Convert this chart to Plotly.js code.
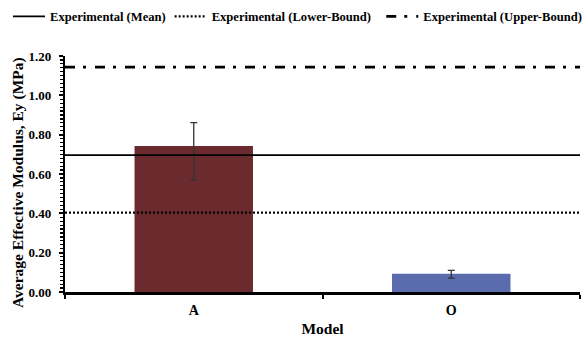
<!DOCTYPE html>
<html>
<head>
<meta charset="utf-8">
<script src="https://cdn.plot.ly/plotly-3.0.1.min.js"></script>
<style>
  html, body { margin: 0; padding: 0; background: #fff; }
  #chart { width: 587px; height: 337px; }
</style>
</head>
<body>
<div id="chart"></div>
<script>
// Model categories and their average effective modulus Ey (MPa)
const models = ['A', 'O'];
const meanModulus = [0.743, 0.093];
const errorPlus = [0.118, 0.017];
const errorMinus = [0.173, 0.022];
const barColors = ['#6B2B2E', '#5A6CAE'];

// Experimental reference levels (MPa)
const expMean = 0.696;
const expLower = 0.404;
const expUpper = 1.143;
const lineSpan = [0, 1];

const yTitle = 'Average Effective Modulus, Ey (MPa)';
const FONT = "'Liberation Serif', 'Times New Roman', serif";

const bars = {
  type: 'bar',
  x: models,
  y: meanModulus,
  marker: { color: barColors },
  error_y: {
    type: 'data', symmetric: false,
    array: errorPlus, arrayminus: errorMinus,
    color: '#333', thickness: 1.3, width: 3.5
  },
  showlegend: false,
  hoverinfo: 'x+y'
};

function refLine(name, value, lineStyle, legendId) {
  return {
    type: 'scatter', mode: 'lines', name: name,
    x: lineSpan, y: [value, value],
    xaxis: 'x2', yaxis: 'y',
    legend: legendId,
    line: lineStyle
  };
}

const traces = [
  bars,
  refLine('Experimental (Mean)', expMean, { color: '#000', width: 1.6, dash: 'solid' }, 'legend'),
  refLine('Experimental (Lower-Bound)', expLower, { color: '#000', width: 2.2, dash: '2px,2px' }, 'legend2'),
  refLine('Experimental (Upper-Bound)', expUpper, { color: '#000', width: 2.8, dash: '10px,8px,3px,9px' }, 'legend3')
];

// one legend box per entry so the three keys sit in a single row
function legendBox(xPos) {
  return {
    orientation: 'h',
    xref: 'container', yref: 'container',
    x: xPos, xanchor: 'left', y: 0.995, yanchor: 'top',
    font: { family: FONT, size: 12.6, color: '#000', weight: 'bold' },
    itemwidth: 32, bgcolor: 'rgba(0,0,0,0)'
  };
}

const layout = {
  width: 587, height: 337,
  margin: { l: 65, r: 7, t: 56, b: 45 },
  paper_bgcolor: '#fff', plot_bgcolor: '#fff',
  font: { family: FONT, size: 13, color: '#000', weight: 'bold' },
  bargap: 0.54,
  showlegend: true,
  legend: legendBox(0.0136),
  legend2: legendBox(0.289),
  legend3: legendBox(0.6495),
  xaxis: {
    type: 'category',
    showline: true, linecolor: '#000', linewidth: 2.5,
    ticks: 'outside', tickson: 'boundaries', ticklen: 4, tickwidth: 2, tickcolor: '#000',
    ticklabelstandoff: 4,
    showgrid: false, zeroline: false,
    tickfont: { family: FONT, size: 14, color: '#000', weight: 'bold' },
    title: { text: 'Model', font: { family: FONT, size: 15.5, color: '#000', weight: 'bold' }, standoff: 8 }
  },
  xaxis2: {
    overlaying: 'x', range: lineSpan, visible: false, fixedrange: true
  },
  yaxis: {
    range: [0, 1.2], dtick: 0.2, tickformat: '.2f',
    showline: true, linecolor: '#000', linewidth: 2.2,
    ticks: 'outside', ticklen: 4, tickwidth: 2, tickcolor: '#000',
    minor: { dtick: 0.02, ticks: 'outside', ticklen: 3, tickwidth: 1.2, tickcolor: '#000' },
    ticklabelstandoff: 5,
    showgrid: false, zeroline: false,
    tickfont: { family: FONT, size: 13, color: '#000', weight: 'bold' }
  },
  yaxis2: {
    overlaying: 'y', anchor: 'x', side: 'left',
    range: [0, 1.2], dtick: 0.2,
    ticks: 'inside', ticklen: 3, tickwidth: 2, tickcolor: '#000',
    minor: { dtick: 0.02, ticks: 'inside', ticklen: 2, tickwidth: 1.2, tickcolor: '#000' },
    showticklabels: false, showline: false, showgrid: false, zeroline: false
  },
  annotations: [{
    // y-axis title, placed beside the tick labels
    text: yTitle, textangle: -90, showarrow: false,
    xref: 'paper', x: 0, xanchor: 'center', xshift: -47,
    yref: 'paper', y: 0.5, yanchor: 'middle', yshift: -9,
    font: { family: FONT, size: 15.5, color: '#000', weight: 'bold' }
  }]
};

Plotly.newPlot('chart', traces, layout, { displayModeBar: false, staticPlot: true });
</script>
</body>
</html>
